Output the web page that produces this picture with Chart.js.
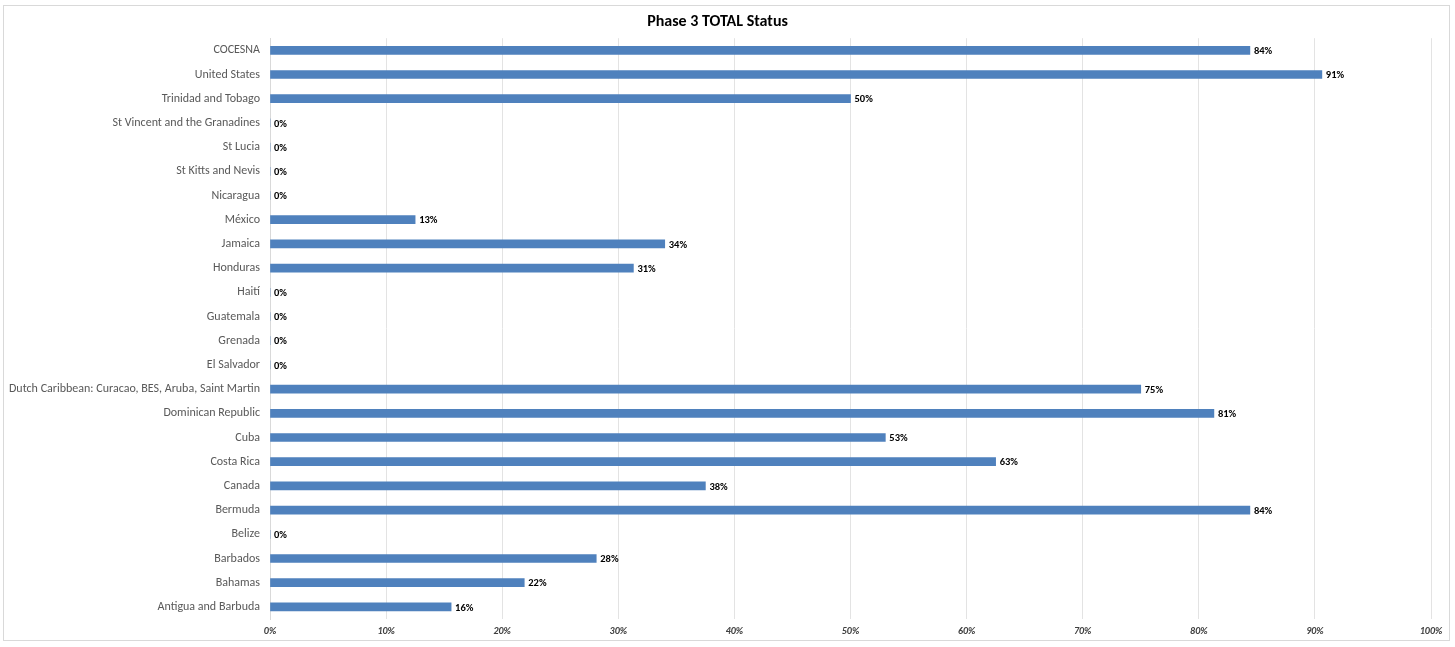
<!DOCTYPE html>
<html>
<head>
<meta charset="utf-8">
<title>Phase 3 TOTAL Status</title>
<script src="https://cdn.jsdelivr.net/npm/chart.js@4.4.0/dist/chart.umd.min.js"></script>
<style>
  html, body { margin: 0; padding: 0; background: #fff; }
  #frame {
    position: absolute;
    left: 3px; top: 5px;
    width: 1445px; height: 634px;
    border: 1px solid #d9d9d9;
  }
  #chart { display: block; }
</style>
</head>
<body>
<div id="frame"><canvas id="chart" width="1445" height="634"></canvas></div>
<script>
// categories, top to bottom as shown
const countries = [
  'COCESNA', 'United States', 'Trinidad and Tobago', 'St Vincent and the Granadines',
  'St Lucia', 'St Kitts and Nevis', 'Nicaragua', 'México', 'Jamaica', 'Honduras',
  'Haití', 'Guatemala', 'Grenada', 'El Salvador',
  'Dutch Caribbean: Curacao, BES, Aruba, Saint Martin', 'Dominican Republic', 'Cuba',
  'Costa Rica', 'Canada', 'Bermuda', 'Belize', 'Barbados', 'Bahamas', 'Antigua and Barbuda'
];

// completion share (fraction)
const status = [
  0.844, 0.906, 0.50, 0, 0, 0, 0, 0.125, 0.34, 0.313,
  0, 0, 0, 0,
  0.75, 0.813, 0.53,
  0.625, 0.375, 0.844, 0, 0.281, 0.219, 0.156
];

const xTicks = [0, 0.1, 0.2, 0.3, 0.4, 0.5, 0.6, 0.7, 0.8, 0.9, 1.0];

const FONT = "Carlito, Calibri, 'Open Sans', 'Noto Sans', sans-serif";

/**
 * Value labels at the end of each bar (no datalabels plugin available)
 */
const barLabels = {
  id: 'barLabels',
  afterDatasetsDraw(chart) {
    const ctx = chart.ctx;
    const meta = chart.getDatasetMeta(0);
    ctx.save();
    ctx.font = 'bold 10.5px ' + FONT;
    ctx.fillStyle = '#000';
    ctx.textAlign = 'left';
    ctx.textBaseline = 'middle';
    meta.data.forEach((bar, i) => {
      const v = status[i];
      ctx.fillText(Math.round(v * 100) + '%', bar.x + 4, bar.y + 1);
    });
    ctx.restore();
  }
};

new Chart(document.getElementById('chart').getContext('2d'), {
  type: 'bar',
  data: {
    labels: countries,
    datasets: [{
      data: status,
      backgroundColor: '#4f81bd',
      borderWidth: 0,
      barThickness: 8
    }]
  },
  options: {
    indexAxis: 'y',
    responsive: false,
    animation: false,
    layout: { padding: { top: 2, right: 18, bottom: 0, left: 0 } },
    plugins: {
      legend: { display: false },
      tooltip: { enabled: false },
      title: {
        display: true,
        text: 'Phase 3 TOTAL Status',
        color: '#000',
        font: { family: FONT, size: 16, weight: 'bold' },
        padding: { top: 4, bottom: 7 }
      }
    },
    scales: {
      x: {
        min: 0,
        max: 1,
        afterBuildTicks(scale) {
          scale.ticks = xTicks.map(v => ({ value: v }));
        },
        afterFit(scale) { scale.height = 21; },
        grid: { color: '#e3e3e3', drawTicks: false },
        border: { display: false },
        ticks: {
          padding: 6,
          color: '#404040',
          font: { family: FONT, size: 10, style: 'italic', weight: 'bold' },
          callback: v => Math.round(v * 100) + '%'
        }
      },
      y: {
        afterFit(scale) { scale.width = 266; },
        grid: { display: false, drawTicks: false },
        border: { display: true, color: '#d9d9d9' },
        ticks: {
          padding: 10,
          autoSkip: false,
          color: '#595959',
          font: { family: FONT, size: 12 }
        }
      }
    }
  },
  plugins: [barLabels]
});
</script>
</body>
</html>
